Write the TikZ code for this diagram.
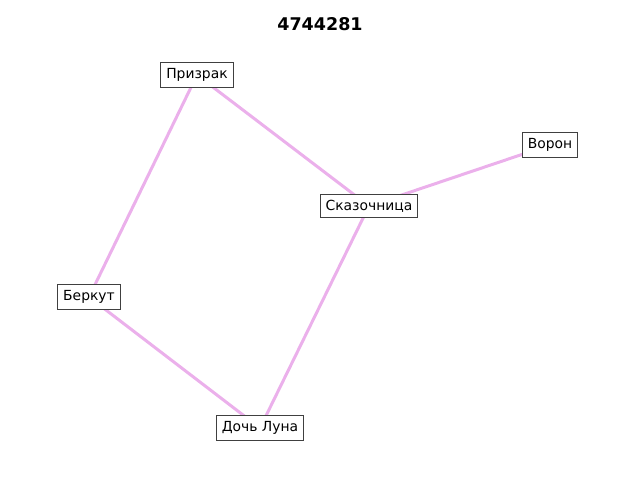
\documentclass[tikz,border=0pt]{standalone}
\usepackage{fontspec}
\setmainfont{DejaVu Sans}
\usetikzlibrary{backgrounds}
\definecolor{edgepink}{HTML}{EBB0EB}
\definecolor{boxgray}{HTML}{404040}
\tikzset{
  bird/.style={draw=boxgray, line width=1pt, fill=white, inner xsep=5.3pt, inner ysep=5.5pt, font=\fontsize{13.9}{16}\selectfont},
  link/.style={edgepink, line width=3pt}
}
\begin{document}
\begin{tikzpicture}[x=1pt, y=-1pt]
\useasboundingbox (0,0) rectangle (640,480);
\node[font=\fontsize{17.5}{20}\selectfont\bfseries] (title) at (320,24) {4744281};

\node[bird] (prizrak) at (197,75) {Призрак};
\node[bird] (voron) at (550,145) {Ворон};
\node[bird] (skaz) at (369,206) {Сказочница};
\node[bird] (berkut) at (89,297) {Беркут};
\node[bird] (doch) at (260,428) {Дочь Луна};

% edges behind the boxes
\begin{pgfonlayer}{background}
\draw[link] (prizrak.center) -- (skaz.center);
\draw[link] (skaz.center) -- (voron.center);
\draw[link] (prizrak.center) -- (berkut.center);
\draw[link] (berkut.center) -- (doch.center);
\draw[link] (doch.center) -- (skaz.center);
\end{pgfonlayer}
\end{tikzpicture}
\end{document}
